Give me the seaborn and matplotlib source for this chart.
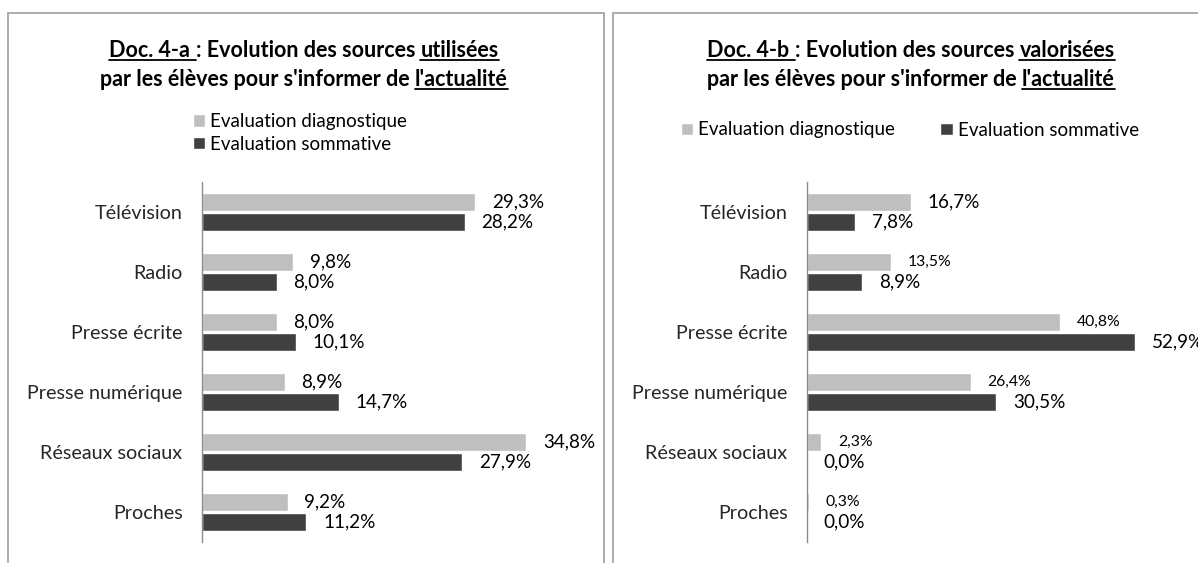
import seaborn as sns
import matplotlib.pyplot as plt
import matplotlib.patches as mpatches
import matplotlib.lines as mlines
import pandas as pd

sources = ["Télévision", "Radio", "Presse écrite", "Presse numérique",
           "Réseaux sociaux", "Proches"]
series = ["Evaluation diagnostique", "Evaluation sommative"]

# Doc. 4-a : sources utilisées (%)
used_diag = [29.3, 9.8, 8.0, 8.9, 34.8, 9.2]
used_somm = [28.2, 8.0, 10.1, 14.7, 27.9, 11.2]

# Doc. 4-b : sources valorisées (%)
valued_diag = [16.7, 13.5, 40.8, 26.4, 2.3, 0.3]
valued_somm = [7.8, 8.9, 52.9, 30.5, 0.0, 0.0]

W, H = 1198, 563
FONT = ["Lato", "DejaVu Sans"]
LIGHT, DARK = "#BFBFBF", "#404040"

sns.set_theme(style="white")
plt.rcParams["font.family"] = FONT
plt.rcParams["text.color"] = "black"


def to_frame(diag, somm):
    rows = []
    for name, vals in zip(series, [diag, somm]):
        for src, v in zip(sources, vals):
            rows.append({"source": src, "evaluation": name, "value": v})
    return pd.DataFrame(rows)


def fmt(v):
    return f"{v:.1f}".replace(".", ",") + "%"


def px_axes(fig, x0, x1, ytop, ybot):
    return fig.add_axes([x0 / W, 1 - ybot / H, (x1 - x0) / W, (ybot - ytop) / H])


def rich_line(fig, segments, cx, ybase, size):
    # draw a line of bold text with some underlined parts, centred at cx (pixels)
    r = fig.canvas.get_renderer()
    probe = fig.text(0, 0, "x x", fontsize=size, fontweight="bold")
    probe2 = fig.text(0, 0, "xx", fontsize=size, fontweight="bold")
    space = probe.get_window_extent(r).width - probe2.get_window_extent(r).width
    probe.remove()
    probe2.remove()
    items = []
    for s, u in segments:
        t = fig.text(0, 0, s.strip(), fontsize=size, fontweight="bold",
                     va="baseline", ha="left")
        w = t.get_window_extent(r).width
        lead = space if s.startswith(" ") else 0
        trail = space if s.endswith(" ") else 0
        items.append((t, w, lead, trail, u))
    total = sum(w + a + b for _, w, a, b, _ in items)
    x = cx - total / 2
    yb = H - ybase
    for t, w, lead, trail, u in items:
        x += lead
        t.set_position((x / W, yb / H))
        if u:
            fig.add_artist(mlines.Line2D([x / W, (x + w + (trail if u == 2 else 0)) / W],
                                         [(yb - 3) / H] * 2, color="black", lw=1.3))
        x += w + trail


def draw_panel(fig, ax, diag, somm, px_per_pct, label_sizes):
    df = to_frame(diag, somm)
    sns.barplot(data=df, y="source", x="value", hue="evaluation", orient="h",
                palette={series[0]: LIGHT, series[1]: DARK}, width=0.68, gap=0.14,
                ax=ax, saturation=1)
    bbox = ax.get_position()
    ax.set_xlim(0, bbox.width * W / px_per_pct)
    ax.set_ylim(5.5, -0.5)
    ax.set_xticks([])
    ax.set_xlabel("")
    ax.set_ylabel("")
    ax.tick_params(axis="y", length=0, pad=14, labelsize=14.2)
    for s in ["top", "right", "bottom"]:
        ax.spines[s].set_visible(False)
    ax.spines["left"].set_color("#8C8C8C")
    ax.spines["left"].set_linewidth(1)
    for cont, vals, sizes in zip(ax.containers, [diag, somm], label_sizes):
        texts = ax.bar_label(cont, labels=[fmt(v) for v in vals], padding=12,
                             clip_on=False)
        for t, sz in zip(texts, sizes):
            t.set_fontsize(sz)


fig = plt.figure(figsize=(W / 100, H / 100), dpi=100)

# panel frames
for x0, x1 in [(8, 604), (613, 1260)]:
    fig.add_artist(mpatches.Rectangle((x0 / W, -0.2), (x1 - x0) / W, 1.2 - 12.5 / H,
                                      transform=fig.transFigure, fill=False,
                                      edgecolor="#A6A6A6", lw=1.3))

big, small = 13.6, 11.3
ax1 = px_axes(fig, 202, 590, 182, 542)
draw_panel(fig, ax1, used_diag, used_somm, 9.32, [[big] * 6, [big] * 6])
sns.move_legend(ax1, "center", bbox_to_anchor=(300 / W, 1 - 133 / H),
                bbox_transform=fig.transFigure, ncol=1, frameon=False, title=None,
                fontsize=13.5, handlelength=0.65, handleheight=0.65,
                handletextpad=0.3, labelspacing=0.3, borderpad=0)

ax2 = px_axes(fig, 807, 1190, 182, 542)
draw_panel(fig, ax2, valued_diag, valued_somm, 6.2,
           [[big, small, small, small, small, small], [big] * 6])
sns.move_legend(ax2, "center", bbox_to_anchor=(910 / W, 1 - 130 / H),
                bbox_transform=fig.transFigure, ncol=2, frameon=False, title=None,
                fontsize=13.5, handlelength=0.65, handleheight=0.65,
                handletextpad=0.3, columnspacing=2.4, borderpad=0)

tsize = 15.5
rich_line(fig, [("Doc. 4-a ", 2), (": Evolution des sources ", 0), ("utilisées", 1)],
          304, 57, tsize)
rich_line(fig, [("par les élèves pour s'informer de ", 0), ("l'actualité", 1)],
          304, 86, tsize)
rich_line(fig, [("Doc. 4-b ", 2), (": Evolution des sources ", 0), ("valorisées", 1)],
          911, 57, tsize)
rich_line(fig, [("par les élèves pour s'informer de ", 0), ("l'actualité", 1)],
          911, 86, tsize)

fig.savefig("out.png", dpi=100)
